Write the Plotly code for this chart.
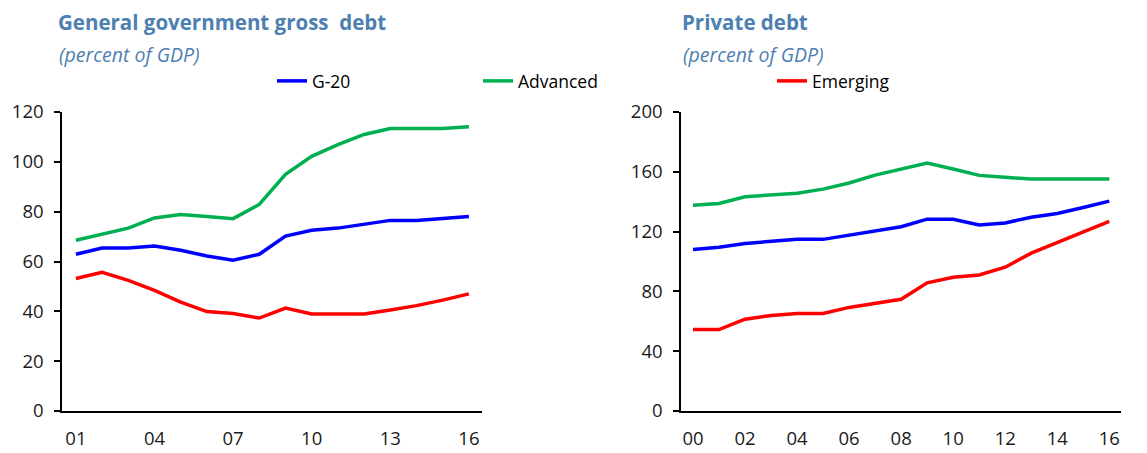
import plotly.graph_objects as go

# ---- data ----
years_gov = [1, 2, 3, 4, 5, 6, 7, 8, 9, 10, 11, 12, 13, 14, 15, 16]
gov_g20 = [62.9, 65.4, 65.4, 66.2, 64.5, 62.2, 60.5, 62.9, 70.2, 72.5, 73.4, 75.1, 76.5, 76.5, 77.3, 78.1]
gov_adv = [68.5, 70.9, 73.4, 77.5, 78.9, 78.1, 77.2, 82.9, 95.0, 102.2, 106.9, 111.0, 113.4, 113.4, 113.4, 114.1]
gov_eme = [53.2, 55.7, 52.4, 48.4, 43.7, 39.9, 39.1, 37.3, 41.3, 38.9, 38.9, 38.9, 40.5, 42.3, 44.5, 47.0]

years_pri = [0, 1, 2, 3, 4, 5, 6, 7, 8, 9, 10, 11, 12, 13, 14, 15, 16]
pri_g20 = [108.1, 109.6, 112.1, 113.2, 114.8, 114.8, 117.5, 120.4, 123.3, 128.3, 128.3, 124.4, 125.8, 129.6, 132.1, 136.1, 140.4]
pri_adv = [137.7, 138.8, 143.3, 144.4, 145.7, 148.4, 152.5, 157.8, 161.9, 165.9, 161.9, 157.6, 156.3, 155.2, 155.2, 155.2, 155.2]
pri_eme = [54.5, 54.5, 61.4, 63.9, 65.2, 65.2, 69.3, 72.2, 74.7, 85.7, 89.5, 91.0, 96.2, 105.6, 112.6, 119.7, 126.9]

gov_ticks = [1, 4, 7, 10, 13, 16]
gov_ticklabels = ["01", "04", "07", "10", "13", "16"]
pri_ticks = [0, 2, 4, 6, 8, 10, 12, 14, 16]
pri_ticklabels = ["00", "02", "04", "06", "08", "10", "12", "14", "16"]

names = ["G-20", "Advanced", "Emerging"]
colors = ["#0000ff", "#00b050", "#ff0000"]

FONT = "Open Sans"
TITLE_COLOR = "#4d80b0"

fig = go.Figure()

gov_series = [gov_g20, gov_adv, gov_eme]
pri_series = [pri_g20, pri_adv, pri_eme]
legends = ["legend", "legend2", "legend3"]

for i in range(3):
    fig.add_trace(go.Scatter(x=years_gov, y=gov_series[i], mode="lines", name=names[i],
                             line=dict(color=colors[i], width=3.5),
                             xaxis="x", yaxis="y", legend=legends[i], showlegend=True))
for i in range(3):
    fig.add_trace(go.Scatter(x=years_pri, y=pri_series[i], mode="lines", name=names[i],
                             line=dict(color=colors[i], width=3.5),
                             xaxis="x2", yaxis="y2", showlegend=False))

W, H = 1147, 453
ybot = 1 - 411 / H
ytop = 1 - 112 / H

axis_common = dict(showgrid=False, zeroline=False, showline=True, linecolor="black",
                   linewidth=1.5, tickfont=dict(family=FONT, size=18.5, color="#1a1a1a"))

fig.update_layout(
    width=W, height=H,
    margin=dict(l=0, r=0, t=0, b=0, autoexpand=False),
    paper_bgcolor="white", plot_bgcolor="white",
    font=dict(family=FONT),
    xaxis=dict(domain=[62 / W, 482 / W], range=[0.47, 16.5], tickvals=gov_ticks,
               ticktext=gov_ticklabels, ticks="", ticklabelstandoff=10, anchor="y",
               **axis_common),
    yaxis=dict(domain=[ybot, ytop], range=[0, 120], tickvals=[0, 20, 40, 60, 80, 100, 120],
               ticks="outside", ticklen=6, tickwidth=1.5, tickcolor="black",
               ticklabelstandoff=7, anchor="x", **axis_common),
    xaxis2=dict(domain=[681 / W, 1121 / W], range=[-0.46, 16.45], tickvals=pri_ticks,
                ticktext=pri_ticklabels, ticks="", ticklabelstandoff=10, anchor="y2",
                **axis_common),
    yaxis2=dict(domain=[ybot, ytop], range=[0, 200], tickvals=[0, 40, 80, 120, 160, 200],
                ticks="outside", ticklen=6, tickwidth=1.5, tickcolor="black",
                ticklabelstandoff=7, anchor="x2", **axis_common),
)

leg_common = dict(orientation="h", xanchor="left", yanchor="middle", bgcolor="rgba(0,0,0,0)",
                  font=dict(family=FONT, size=17.5, color="black"), itemwidth=30)
y_leg = 1 - 81 / H
fig.update_layout(
    legend=dict(x=(282 - 10) / W, y=y_leg, **leg_common),
    legend2=dict(x=(488 - 10) / W, y=y_leg, **leg_common),
    legend3=dict(x=(782 - 10) / W, y=y_leg, **leg_common),
)

# titles
fig.add_annotation(x=56 / W, y=1 - 22 / H, xref="paper", yref="paper", xanchor="left",
                   yanchor="middle", showarrow=False,
                   text="<b>General government gross  debt</b>",
                   font=dict(family=FONT, size=20.5, color=TITLE_COLOR))
fig.add_annotation(x=57 / W, y=1 - 55 / H, xref="paper", yref="paper", xanchor="left",
                   yanchor="middle", showarrow=False, text="<i>(percent of GDP)</i>",
                   font=dict(family=FONT, size=19.5, color=TITLE_COLOR))
fig.add_annotation(x=680 / W, y=1 - 22 / H, xref="paper", yref="paper", xanchor="left",
                   yanchor="middle", showarrow=False, text="<b>Private debt</b>",
                   font=dict(family=FONT, size=20.5, color=TITLE_COLOR))
fig.add_annotation(x=681 / W, y=1 - 55 / H, xref="paper", yref="paper", xanchor="left",
                   yanchor="middle", showarrow=False, text="<i>(percent of GDP)</i>",
                   font=dict(family=FONT, size=19.5, color=TITLE_COLOR))

fig.write_html("out.html")
